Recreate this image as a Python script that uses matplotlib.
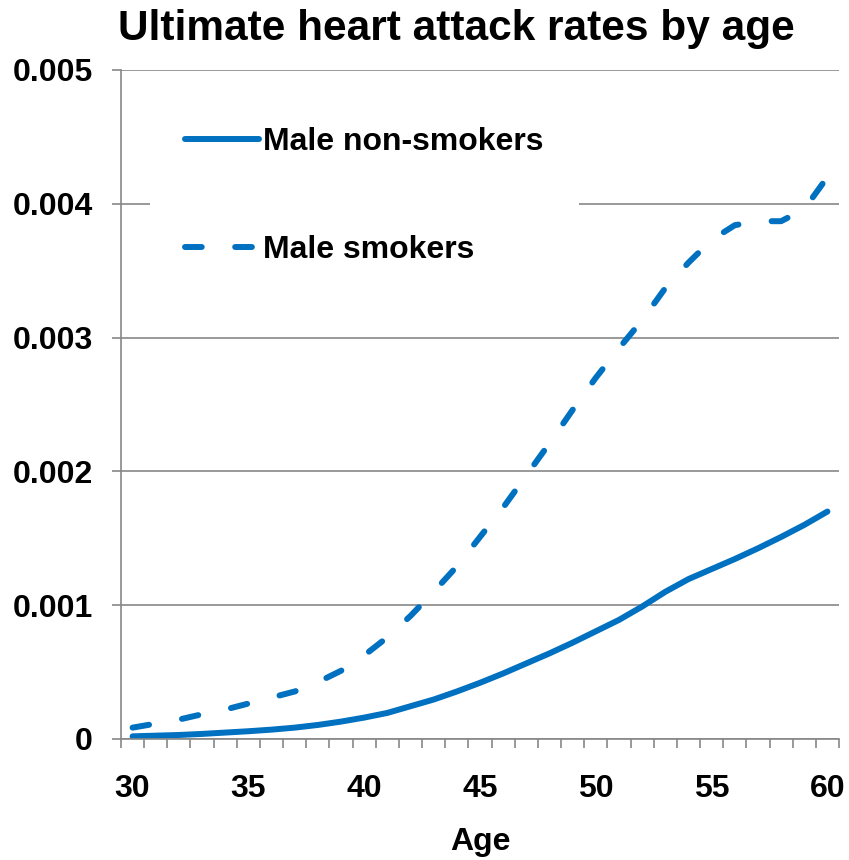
import matplotlib.pyplot as plt
from matplotlib.ticker import FixedLocator

## Data
ages = list(range(30, 61))
non_smokers = [0.000020, 0.000025, 0.000030, 0.000038, 0.000048, 0.000058,
               0.000070, 0.000085, 0.000105, 0.000130, 0.000160, 0.000195,
               0.000245, 0.000295, 0.000355, 0.000420, 0.000490, 0.000565,
               0.000640, 0.000720, 0.000805, 0.000890, 0.000990, 0.001100,
               0.001195, 0.001270, 0.001345, 0.001425, 0.001510, 0.001600,
               0.001700]
smokers = [0.000085, 0.000115, 0.000145, 0.000185, 0.000220, 0.000265,
           0.000310, 0.000355, 0.000425, 0.000510, 0.000625, 0.000760,
           0.000920, 0.001100, 0.001290, 0.001510, 0.001730, 0.001970,
           0.002210, 0.002460, 0.002700, 0.002920, 0.003130, 0.003370,
           0.003560, 0.003730, 0.003840, 0.003870, 0.003870, 0.003960,
           0.004200]
y_ticks = [0, 0.001, 0.002, 0.003, 0.004, 0.005]
y_labels = ["0", "0.001", "0.002", "0.003", "0.004", "0.005"]
x_ticks = [30, 35, 40, 45, 50, 55, 60]

plt.rcParams['font.family'] = ['Liberation Sans', 'DejaVu Sans']
plt.rcParams['font.weight'] = 'bold'

blue = '#0070C0'
grey = '#878787'
fs = 23

fig = plt.figure(figsize=(8.49, 8.6), dpi=100)
ax = fig.add_axes([121/849, 1-739/860, (839-121)/849, (739-70)/860])

## Lines
ax.plot(ages, non_smokers, color=blue, lw=4.3, solid_capstyle='round',
        solid_joinstyle='round', label='Male non-smokers')
ax.plot(ages, smokers, color=blue, lw=4.3, linestyle=(0, (2.8, 5.6)),
        dash_capstyle='round', label='Male smokers')

## Axes limits
ax.set_xlim(29.5, 60.5)
ax.set_ylim(0, 0.005)

## Grid
ax.yaxis.grid(True, color=grey, lw=1.2)
ax.set_axisbelow(True)

## Spines
for s in ['top', 'right']:
    ax.spines[s].set_visible(False)
for s in ['left', 'bottom']:
    ax.spines[s].set_color(grey)
    ax.spines[s].set_linewidth(1.2)

## Ticks
ax.set_yticks(y_ticks, y_labels)
ax.set_xticks(x_ticks, [str(a) for a in x_ticks])
ax.xaxis.set_minor_locator(FixedLocator([a - 0.5 for a in ages] + [60.5]))
ax.tick_params(axis='y', length=6.5, width=1.2, color=grey, pad=14,
               labelsize=fs)
ax.tick_params(axis='x', which='major', length=0, pad=25, labelsize=fs)
ax.tick_params(axis='x', which='minor', length=6.5, width=1.2, color=grey)
for lbl in ax.get_xticklabels() + ax.get_yticklabels():
    lbl.set_fontweight('bold')

## Labels and title
ax.set_xlabel('Age', fontsize=fs, fontweight='bold', labelpad=17)
fig.text(456/849, 1-29/860, 'Ultimate heart attack rates by age',
         fontsize=30.5, fontweight='bold', ha='center', va='center')

## Legend
leg = ax.legend(loc='upper left', bbox_to_anchor=(150/849, 1-92/860),
                bbox_transform=fig.transFigure, fontsize=fs,
                frameon=True, fancybox=False, borderpad=1.1,
                borderaxespad=0, labelspacing=2.45, handlelength=2.3,
                handletextpad=0.15)
leg.get_frame().set_facecolor('white')
leg.get_frame().set_edgecolor('none')
leg.get_frame().set_alpha(1)
for t in leg.get_texts():
    t.set_fontweight('bold')

plt.savefig('out.png', dpi=100)
